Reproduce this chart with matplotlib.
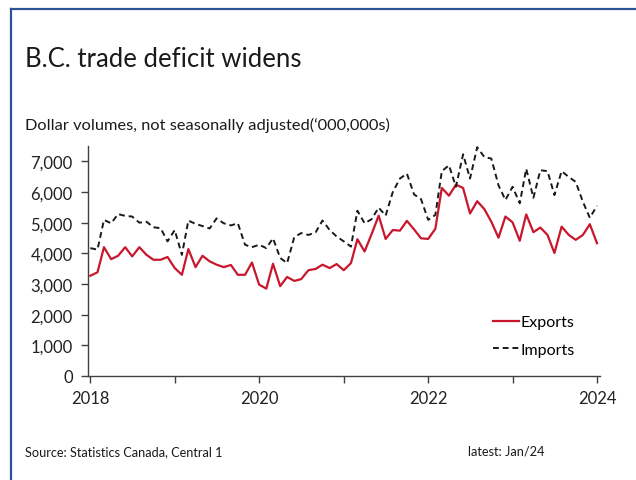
"""B.C. trade deficit chart: monthly exports vs imports, Jan 2018 - Jan 2024."""

import matplotlib

matplotlib.use("Agg")

import matplotlib.dates as mdates  # noqa: E402
import matplotlib.pyplot as plt  # noqa: E402
import pandas as pd  # noqa: E402
from matplotlib.lines import Line2D  # noqa: E402
from matplotlib.ticker import FuncFormatter  # noqa: E402

plt.rcParams["font.family"] = ["Lato", "DejaVu Sans"]

months = pd.date_range("2018-01-01", periods=73, freq="MS")

# $ millions
exports = [
    3270, 3380, 4200, 3810, 3920, 4200, 3900, 4200, 3950, 3790, 3790, 3880,
    3520, 3300, 4140, 3550, 3920, 3740, 3630, 3550, 3620, 3300, 3300, 3700,
    2980, 2850, 3660, 2930, 3230, 3100, 3160, 3450, 3490, 3630, 3520, 3650,
    3450, 3680, 4460, 4060, 4620, 5230, 4470, 4760, 4740, 5060, 4780, 4490,
    4470, 4800, 6130, 5880, 6240, 6130, 5300, 5700, 5440, 5030, 4510, 5200,
    5010, 4410, 5270, 4690, 4840, 4600, 4010, 4870, 4600, 4440, 4600, 4950,
    4330,
]
imports = [
    4170, 4120, 5090, 4980, 5280, 5220, 5200, 5000, 5030, 4850, 4820, 4390,
    4760, 3950, 5070, 4960, 4890, 4810, 5140, 4980, 4910, 4980, 4280, 4200,
    4280, 4170, 4490, 3850, 3680, 4530, 4660, 4600, 4680, 5070, 4760, 4550,
    4390, 4220, 5390, 4980, 5110, 5490, 5230, 6000, 6440, 6600, 5920, 5770,
    5090, 5250, 6680, 6870, 6170, 7230, 6440, 7460, 7140, 7090, 6220, 5740,
    6170, 5630, 6760, 5810, 6710, 6680, 5900, 6680, 6490, 6330, 5680, 5160,
    5550,
]

W, H = 636, 481
fig = plt.figure(figsize=(W / 100, H / 100), dpi=100)
ax = fig.add_axes([88 / W, 1 - 377 / H, (600 - 88) / W, (377 - 147) / H])

ax.plot(months, exports, color="#C8172D", linewidth=1.6, label="Exports")
ax.plot(months, imports, color="#1a1a1a", linewidth=1.4, linestyle=(0, (3, 2)),
        label="Imports")

ax.set_ylim(0, 7500)
ax.set_yticks(range(0, 7001, 1000))
ax.yaxis.set_major_formatter(FuncFormatter(lambda v, _: f"{int(v):,}"))
ax.set_xlim(pd.Timestamp("2017-12-22"), pd.Timestamp("2024-01-14"))
ax.xaxis.set_major_locator(mdates.YearLocator(1))
ax.xaxis.set_major_formatter(
    FuncFormatter(lambda v, _: (str(mdates.num2date(v).year)
                                if mdates.num2date(v).year % 2 == 0 else ""))
)

for side in ("top", "right"):
    ax.spines[side].set_visible(False)
for side in ("left", "bottom"):
    ax.spines[side].set_color("#404040")
    ax.spines[side].set_linewidth(1.0)
ax.tick_params(direction="out", length=5, width=1.0, color="#404040",
               labelsize=12, labelcolor="#222222")
ax.tick_params(axis="y", pad=6)
ax.tick_params(axis="x", pad=5)

ax.legend(loc="upper left", bbox_to_anchor=(493 / W, 1 - 316 / H),
          bbox_transform=fig.transFigure,
          frameon=False, fontsize=11.5, handlelength=1.6, handletextpad=0.15,
          labelspacing=0.85, borderpad=0, borderaxespad=0)

fig.text(25 / W, 1 - 67 / H, "B.C. trade deficit widens", fontsize=18.5,
         color="#1a1a1a", va="baseline")
fig.text(25 / W, 1 - 130 / H,
         "Dollar volumes, not seasonally adjusted(\u2018000,000s)",
         fontsize=11.8, color="#1a1a1a", va="baseline")
fig.text(25 / W, 1 - 456 / H, "Source: Statistics Canada, Central 1",
         fontsize=9.2, color="#1a1a1a", va="baseline")
fig.text(468 / W, 1 - 456 / H, "latest: Jan/24", fontsize=9.2,
         color="#1a1a1a", va="baseline")

# blue frame along the top and left edges
frame = dict(color="#2E5395", linewidth=1.6, transform=fig.transFigure)
fig.add_artist(Line2D([11 / W, 11 / W], [0, 1 - 10 / H], **frame))
fig.add_artist(Line2D([11 / W, 1], [1 - 10 / H, 1 - 10 / H], **frame))

fig.savefig("out.png", dpi=100)
